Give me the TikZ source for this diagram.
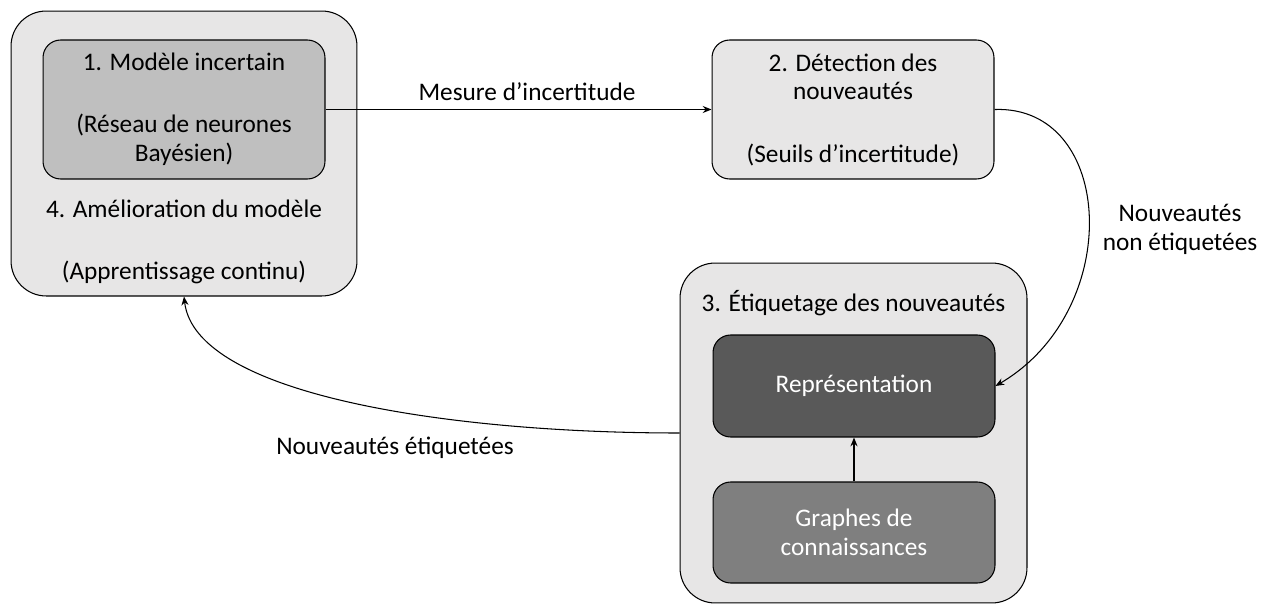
\documentclass[tikz,border=0pt]{standalone}
\usepackage{fontspec}
\setmainfont{Carlito}
\usepackage{tikz}
\usetikzlibrary{arrows.meta}

\definecolor{fondclair}{HTML}{E7E6E6}
\definecolor{fondmoyen}{HTML}{BFBFBF}
\definecolor{fondsombre}{HTML}{595959}
\definecolor{fondgris}{HTML}{7F7F7F}

\tikzset{
  cadre/.style={draw, line width=0.6pt, fill=fondclair, rounded corners=20pt, inner sep=0pt},
  bloc/.style={draw, line width=0.6pt, rounded corners=10pt, inner sep=0pt, align=center,
    minimum width=5.64cm},
  lien/.style={line width=0.6pt, -{Stealth[length=5pt, width=4pt]}}
}

\begin{document}
\begin{tikzpicture}[x=0.02cm, y=-0.02cm, font=\fontsize{14.4}{16.4}\selectfont]
    \useasboundingbox (0, 0) rectangle (1262, 605);
    % cadres exterieurs
    \node[cadre, minimum width=6.92cm, minimum height=5.7cm] (cadreA) at (184, 153.5) {};
    \node[cadre, minimum width=6.94cm, minimum height=6.8cm] (cadreC) at (853.5, 433) {};
    % blocs
    \node[bloc, fill=fondmoyen, minimum height=2.78cm] (modele) at (184, 109.5)
      {1. Modèle incertain\\[19pt](Réseau de neurones\\Bayésien)};
    \node[align=center] (amelioration) at (184, 242)
      {4. Amélioration du modèle\\[19pt](Apprentissage continu)};
    \node[bloc, fill=fondclair, minimum height=2.78cm] (detection) at (853, 109.5)
      {2. Détection des\\nouveautés\\[19pt](Seuils d’incertitude)};
    \node (etiquetage) at (853.5, 303) {3. Étiquetage des nouveautés};
    \node[bloc, fill=fondsombre, text=white, minimum height=2.04cm] (repr) at (854, 386)
      {Représentation};
    \node[bloc, fill=fondgris, text=white, minimum height=2.02cm] (graphes) at (854, 532.5)
      {Graphes de\\connaissances};
    % liens
    \draw[lien] (modele.east) -- (detection.west);
    \node (mesure) at (527, 92) {Mesure d’incertitude};
    \draw[lien] (detection.east) .. controls (1115, 105) and (1125, 310) .. (repr.east);
    \node[align=center] (nonetiq) at (1180, 229) {Nouveautés\\non étiquetées};
    \draw[lien] (graphes.north) -- (repr.south);
    \draw[lien] (cadreC.west) .. controls (450, 433) and (195, 395) .. (cadreA.south);
    \node (etiq) at (395, 448) {Nouveautés étiquetées};
\end{tikzpicture}
\end{document}
